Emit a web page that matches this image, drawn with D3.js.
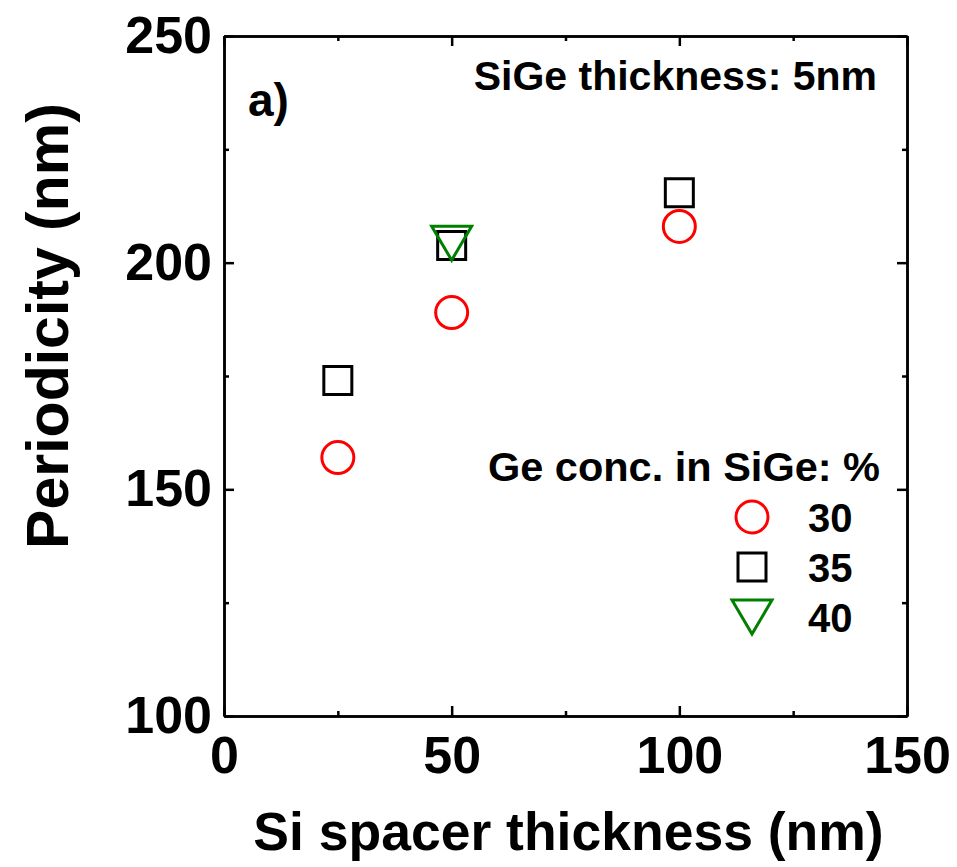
<!DOCTYPE html>
<html>
<head>
<meta charset="utf-8">
<script src="https://cdn.jsdelivr.net/npm/d3@7"></script>
<style>
  body { margin: 0; background: #fff; }
  text { font-family: "Liberation Sans", Arial, sans-serif; font-weight: bold; fill: #000; }
</style>
</head>
<body>
<svg id="chart" width="957" height="867"></svg>
<script>
// Données
const spacer = [25, 50, 100]
const ge30 = [157.0, 189.0, 208.0]
const ge35 = [174.0, 203.8, 215.4]
const spacer40 = [50]
const ge40 = [204.3]

const xTicks = [0, 50, 100, 150]
const xMinor = [25, 75, 125]
const yTicks = [100, 150, 200, 250]
const yMinor = [125, 175, 225]

const legendLabels = ["30", "35", "40"]

// triangle pointe en bas (centré sur sa boîte)
const triangleDown = {
    draw(context, size) {
        const w = Math.sqrt(size) * 1.15
        const h = w * 0.85
        context.moveTo(-w / 2, -h / 2)
        context.lineTo(w / 2, -h / 2)
        context.lineTo(0, h / 2)
        context.closePath()
    }
}

const series = [
    { name: legendLabels[0], xs: spacer, ys: ge30, type: d3.symbolCircle, size: 804, color: "#ff0000" },
    { name: legendLabels[1], xs: spacer, ys: ge35, type: d3.symbolSquare, size: 784, color: "#000000" },
    { name: legendLabels[2], xs: spacer40, ys: ge40, type: triangleDown, size: 1210, color: "#008000" }
]

const svg = d3.select("#chart")

const margin = { top: 36, right: 50, bottom: 151, left: 224 },
    width = 957 - margin.left - margin.right,
    height = 867 - margin.top - margin.bottom

const g = svg.append("g")
    .attr("transform", `translate(${margin.left}, ${margin.top})`)

const x = d3.scaleLinear().domain([0, 150]).range([0, width])
const y = d3.scaleLinear().domain([100, 250]).range([height, 0])

// Axes (ticks vers l'intérieur)
const axisStyle = sel => {
    sel.selectAll("path").attr("stroke", "#000").attr("stroke-width", 2.5)
    sel.selectAll("line").attr("stroke", "#000").attr("stroke-width", 2.5)
    sel.selectAll("text").style("font-size", "52px")
}

g.append("g")
    .attr("transform", `translate(0, ${height})`)
    .call(d3.axisBottom(x).tickValues(xTicks).tickSize(-10).tickSizeOuter(0).tickPadding(20))
    .call(axisStyle)
g.append("g")
    .attr("transform", `translate(0, ${height})`)
    .call(d3.axisBottom(x).tickValues(xMinor).tickSize(-5).tickSizeOuter(0).tickFormat(""))
    .call(axisStyle)
g.append("g")
    .call(d3.axisTop(x).tickValues(xTicks).tickSize(-10).tickSizeOuter(0).tickFormat(""))
    .call(axisStyle)
g.append("g")
    .call(d3.axisTop(x).tickValues(xMinor).tickSize(-5).tickSizeOuter(0).tickFormat(""))
    .call(axisStyle)

g.append("g")
    .call(d3.axisLeft(y).tickValues(yTicks).tickSize(-10).tickSizeOuter(0).tickPadding(12))
    .call(axisStyle)
g.append("g")
    .call(d3.axisLeft(y).tickValues(yMinor).tickSize(-5).tickSizeOuter(0).tickFormat(""))
    .call(axisStyle)
g.append("g")
    .attr("transform", `translate(${width}, 0)`)
    .call(d3.axisRight(y).tickValues(yTicks).tickSize(-10).tickSizeOuter(0).tickFormat(""))
    .call(axisStyle)
g.append("g")
    .attr("transform", `translate(${width}, 0)`)
    .call(d3.axisRight(y).tickValues(yMinor).tickSize(-5).tickSizeOuter(0).tickFormat(""))
    .call(axisStyle)

// Titres des axes
svg.append("text")
    .attr("x", margin.left + width / 2 + 3)
    .attr("y", 850)
    .attr("text-anchor", "middle")
    .style("font-size", "53.5px")
    .text("Si spacer thickness (nm)")

svg.append("text")
    .attr("transform", "translate(68, 326) rotate(-90)")
    .attr("text-anchor", "middle")
    .style("font-size", "59px")
    .text("Periodicity (nm)")

// Points
series.forEach(s => {
    g.append("g")
        .selectAll("path")
        .data(s.xs.map((d, i) => [d, s.ys[i]]))
        .enter()
        .append("path")
        .attr("transform", d => `translate(${x(d[0])}, ${y(d[1])})`)
        .attr("d", d3.symbol().type(s.type).size(s.size))
        .attr("fill", "none")
        .attr("stroke", s.color)
        .attr("stroke-width", 3)
})

// Annotations
svg.append("text")
    .attr("x", 248)
    .attr("y", 116)
    .style("font-size", "46px")
    .text("a)")

svg.append("text")
    .attr("x", 877)
    .attr("y", 90)
    .attr("text-anchor", "end")
    .style("font-size", "41px")
    .text("SiGe thickness: 5nm")

// Légende
const legend = svg.append("g")
legend.append("text")
    .attr("x", 880)
    .attr("y", 481)
    .attr("text-anchor", "end")
    .style("font-size", "41.5px")
    .text("Ge conc. in SiGe: %")

series.forEach((s, i) => {
    const ly = 517 + i * 50
    legend.append("path")
        .attr("transform", `translate(752, ${ly})`)
        .attr("d", d3.symbol().type(s.type).size(s.size))
        .attr("fill", "none")
        .attr("stroke", s.color)
        .attr("stroke-width", 3)
    legend.append("text")
        .attr("x", 808)
        .attr("y", ly + 15)
        .style("font-size", "40px")
        .text(s.name)
})
</script>
</body>
</html>
